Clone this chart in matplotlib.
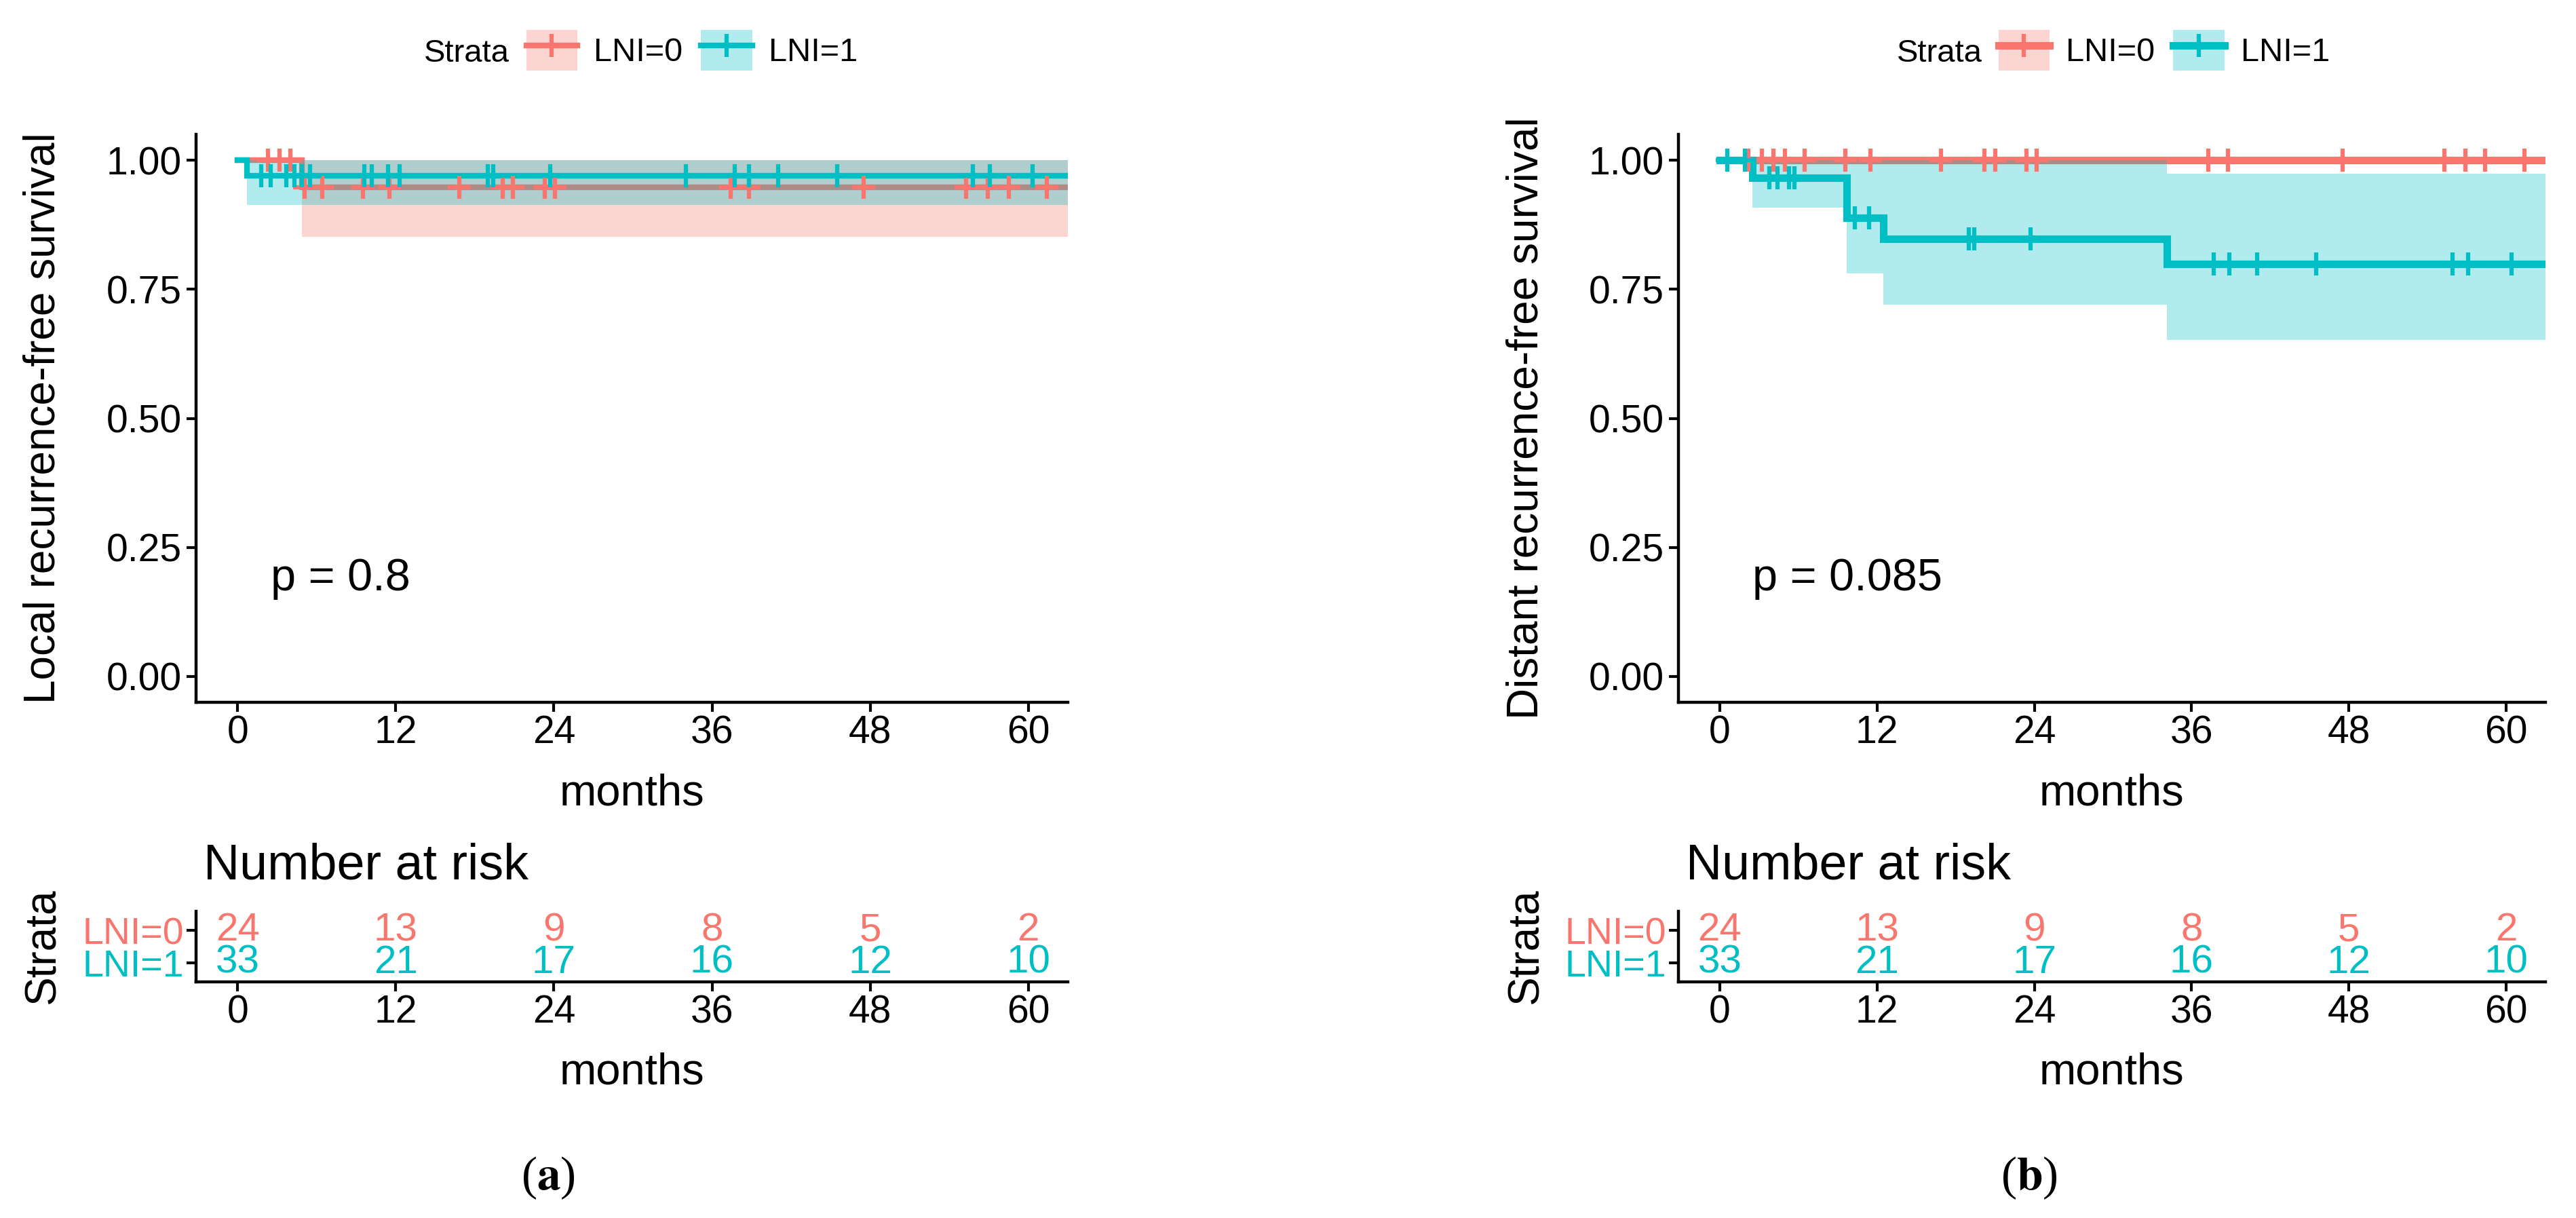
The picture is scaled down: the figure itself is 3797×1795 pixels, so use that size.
import matplotlib.pyplot as plt
import numpy as np
from matplotlib.patches import Patch
from matplotlib.lines import Line2D
from matplotlib.ticker import FormatStrFormatter

plt.rcParams['font.family'] = ['Liberation Sans', 'DejaVu Sans']
plt.rcParams['mathtext.fontset'] = 'stix'

RED = '#F8766D'
TEAL = '#00BFC4'
W, H = 3797, 1795

# ---------------- panel (a): local recurrence ----------------
a0_t = [0, 4.9, 63]
a0_s = [1.0, 0.947, 0.947]
a0_lo = [1.0, 0.851, 0.851]
a0_hi = [1.0, 1.0, 1.0]
a0_cens = [2.3, 3.2, 4.0, 5.1, 6.4, 9.5, 11.5, 16.8, 20.1, 20.9, 23.3, 24.1,
           37.4, 38.8, 47.5, 55.3, 56.9, 58.5, 61.4]

a1_t = [0, 0.7, 63]
a1_s = [1.0, 0.970, 0.970]
a1_lo = [1.0, 0.913, 0.913]
a1_hi = [1.0, 1.0, 1.0]
a1_cens = [1.8, 2.5, 3.7, 4.3, 4.9, 5.5, 9.6, 10.2, 11.4, 12.3, 19.0, 19.4,
           23.7, 34.0, 37.7, 38.8, 41.0, 45.5, 55.8, 57.1, 60.3]

# ---------------- panel (b): distant recurrence ----------------
b0_t = [0, 63]
b0_s = [1.0, 1.0]
b0_lo = [1.0, 1.0]
b0_hi = [1.0, 1.0]
b0_cens = [2.2, 3.2, 4.1, 5.0, 6.5, 9.6, 11.5, 16.9, 20.2, 21.0, 23.4, 24.2,
           37.3, 38.8, 47.5, 55.3, 56.9, 58.4, 61.4]

b1_t = [0, 2.5, 9.7, 12.5, 34.1, 63]
b1_s = [1.0, 0.966, 0.889, 0.847, 0.799, 0.799]
b1_lo = [1.0, 0.908, 0.781, 0.720, 0.652, 0.652]
b1_hi = [1.0, 1.0, 1.0, 1.0, 0.974, 0.974]
b1_cens = [0.6, 1.9, 3.8, 4.4, 5.3, 5.7, 10.3, 11.4, 19.0, 19.4, 23.7,
           37.7, 38.9, 41.0, 45.5, 55.9, 57.1, 60.4]

# number at risk
risk_times = [0, 12, 24, 36, 48, 60]
risk_lni0 = [24, 13, 9, 8, 5, 2]
risk_lni1 = [33, 21, 17, 16, 12, 10]
strata = ['LNI=0', 'LNI=1']


def step_at(t, s, x):
    idx = np.searchsorted(t, x, side='right') - 1
    return np.asarray(s)[idx]


def style_axes(ax):
    for side in ['top', 'right']:
        ax.spines[side].set_visible(False)
    for side in ['left', 'bottom']:
        ax.spines[side].set_linewidth(3.2)
    ax.tick_params(axis='both', width=3, length=10, colors='black')


fig = plt.figure(figsize=(W / 100, H / 100), dpi=100)

panels = [
    dict(left=289, width=1285, curves=[(a0_t, a0_s, a0_lo, a0_hi, a0_cens, RED),
                                       (a1_t, a1_s, a1_lo, a1_hi, a1_cens, TEAL)],
         ylabel='Local recurrence-free survival', ptext='p = 0.8', lw=6,
         tag='a', tag_x=808, leg_x=1020, strata_x=751),
    dict(left=2474, width=1278, curves=[(b0_t, b0_s, b0_lo, b0_hi, b0_cens, RED),
                                        (b1_t, b1_s, b1_lo, b1_hi, b1_cens, TEAL)],
         ylabel='Distant recurrence-free survival', ptext='p = 0.085', lw=8,
         tag='b', tag_x=2991, leg_x=3190, strata_x=2922),
]

for p in panels:
    ax = fig.add_axes([p['left'] / W, 1 - 1035 / H, p['width'] / W, 837 / H])
    z = 1
    for t, s, lo, hi, cens, col in p['curves']:
        ax.fill_between(t, lo, hi, step='post', color=col, alpha=0.3, lw=0, zorder=z)
        ax.step(t, s, where='post', color=col, lw=p['lw'], zorder=z + 1,
                solid_joinstyle='miter')
        ax.plot(cens, step_at(t, s, cens), ls='none', marker='+', ms=24,
                mew=4.5, color=col, zorder=10)
        z += 2
    ax.set_xlim(-3.15, 63)
    ax.set_ylim(-0.05, 1.05)
    ax.set_xticks(risk_times)
    ax.set_yticks([0, 0.25, 0.5, 0.75, 1.0])
    ax.yaxis.set_major_formatter(FormatStrFormatter('%.2f'))
    style_axes(ax)
    ax.tick_params(axis='both', labelsize=41)
    ax.tick_params(axis='x', pad=3)
    ax.tick_params(axis='y', pad=5)
    ax.set_xlabel('months', fontsize=47)
    ax.xaxis.set_label_coords(0.5, -0.125)
    ax.set_ylabel(p['ylabel'], fontsize=46)
    ax.yaxis.set_label_coords(-0.152, 0.5)
    ax.text(2.5, 0.167, p['ptext'], fontsize=48, va='baseline', ha='left')

    # legend
    handles = []
    for t, s, lo, hi, cens, col in p['curves']:
        handles.append((Patch(facecolor=col, alpha=0.3, edgecolor='none'),
                        Line2D([], [], color=col, lw=p['lw'], marker='+', ms=24, mew=4.5)))
    ax.legend(handles, strata, loc='center',
              bbox_to_anchor=(p['leg_x'] / W, 1 - 74 / H), bbox_transform=fig.transFigure,
              ncol=2, frameon=False, fontsize=35, handlelength=1.55, handleheight=1.55,
              handletextpad=0.5, columnspacing=0.55, borderpad=0, borderaxespad=0)
    fig.text(p['strata_x'] / W, 1 - 91 / H, 'Strata', fontsize=34, ha='right', va='baseline')

    # risk table
    axr = fig.add_axes([p['left'] / W, 1 - 1447 / H, p['width'] / W, 104 / H])
    for row, nums, col in [(2, risk_lni0, RED), (1, risk_lni1, TEAL)]:
        for t, n in zip(risk_times, nums):
            axr.text(t, row, str(n), color=col, fontsize=42, ha='center', va='center')
    axr.set_xlim(-3.15, 63)
    axr.set_ylim(0.4, 2.6)
    axr.set_xticks(risk_times)
    axr.set_yticks([2, 1])
    axr.set_yticklabels(strata)
    for lab, col in zip(axr.get_yticklabels(), [RED, TEAL]):
        lab.set_color(col)
    style_axes(axr)
    axr.tick_params(axis='x', labelsize=41, pad=3)
    axr.tick_params(axis='y', labelsize=40, pad=3)
    for lab, col in zip(axr.get_yticklabels(), [RED, TEAL]):
        lab.set_color(col)
    axr.set_xlabel('months', fontsize=47)
    axr.xaxis.set_label_coords(0.5, -1.0)
    axr.set_ylabel('Strata', fontsize=46)
    axr.yaxis.set_label_coords(-0.152, 0.5)
    axr.text(0.0086, 1.452, 'Number at risk', transform=axr.transAxes,
             fontsize=53, ha='left', va='baseline')

    fig.text(p['tag_x'] / W, 1 - 1736 / H, '(' + r'$\mathbf{' + p['tag'] + '}$' + ')',
             fontsize=50, family='Liberation Serif', ha='center', va='center')

fig.savefig('out.png', dpi=100)
